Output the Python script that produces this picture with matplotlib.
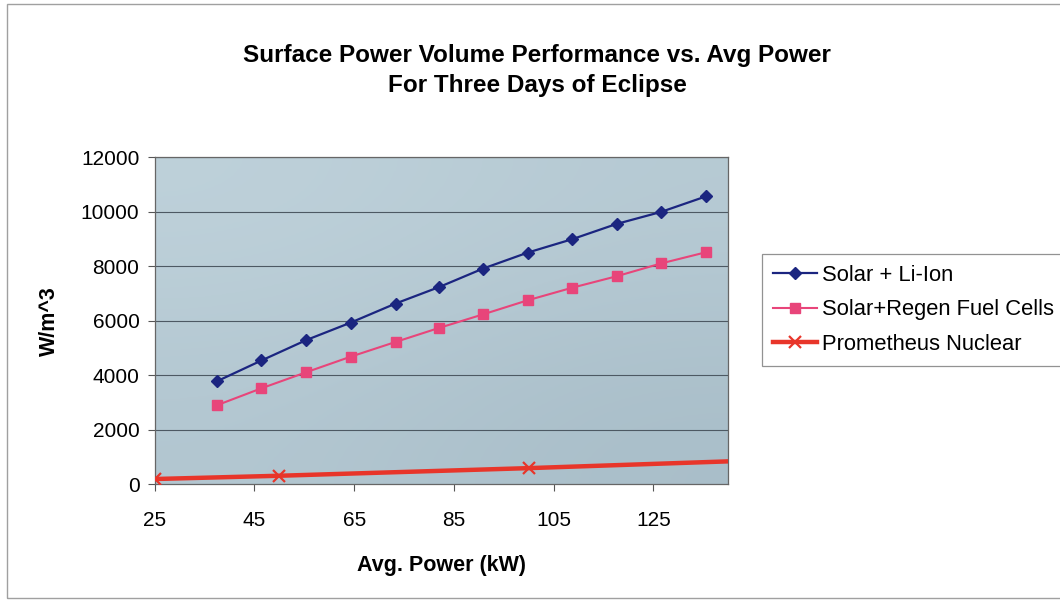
import numpy as np
import matplotlib
matplotlib.use("Agg")
import matplotlib.pyplot as plt
from matplotlib.patches import Rectangle

plt.rcParams['font.family'] = ['Liberation Sans', 'DejaVu Sans']

# Average power (kW) for the solar options
power_kw = [37.5, 46.4, 55.4, 64.3, 73.3, 82.1, 90.8, 99.8, 108.7, 117.6, 126.5, 135.5]

# Volume performance (W/m^3)
solar_li_ion = [3780, 4540, 5290, 5930, 6630, 7240, 7910, 8500, 8990, 9550, 9990, 10560]
solar_regen_fc = [2900, 3520, 4110, 4680, 5220, 5740, 6230, 6750, 7210, 7630, 8100, 8510]

# Nuclear option
nuclear_kw = [25, 50, 100, 150]
nuclear = [190, 310, 590, 900]

x_ticks = [25, 45, 65, 85, 105, 125]
y_ticks = [0, 2000, 4000, 6000, 8000, 10000, 12000]

fig = plt.figure(figsize=(10.6, 6), dpi=100)
fig.patch.set_facecolor('white')

# outer chart border
fig.patches.append(Rectangle((0.007, 0.004), 1.2, 0.99, transform=fig.transFigure,
                             fill=False, edgecolor='#a0a0a0', linewidth=1.0))

ax = fig.add_axes([0.146, 0.193, 0.541, 0.545])

# soft blue-grey plot background
grad = np.array([[0.0, 0.35], [0.55, 1.0]])
cmap = matplotlib.colors.LinearSegmentedColormap.from_list('bg', ['#bed1da', '#a9bec9'])
ax.imshow(grad, cmap=cmap, extent=[0, 1, 0, 1], transform=ax.transAxes,
          aspect='auto', interpolation='bicubic', zorder=0)

for yv in y_ticks[1:]:
    ax.axhline(yv, color='#4d5963', linewidth=0.8, zorder=1)

ax.plot(power_kw, solar_li_ion, color='#1b2580', linewidth=1.6, marker='D',
        markersize=6.5, label='Solar + Li-Ion', zorder=3)
ax.plot(power_kw, solar_regen_fc, color='#e8457a', linewidth=1.5, marker='s',
        markersize=6.5, label='Solar+Regen Fuel Cells', zorder=3)
ax.plot(nuclear_kw, nuclear, color='#e8352a', linewidth=3.2, marker='x',
        markersize=9, markeredgewidth=1.6, label='Prometheus Nuclear', zorder=3)

ax.set_xlim(25, 140)
ax.set_ylim(0, 12000)
ax.set_xticks(x_ticks)
ax.set_yticks(y_ticks)
ax.tick_params(axis='both', labelsize=15, length=5, color='#555555', direction='out')
ax.tick_params(axis='x', pad=14)
ax.tick_params(axis='y', pad=6)

for side in ['left', 'right', 'top', 'bottom']:
    ax.spines[side].set_color('#666666')
    ax.spines[side].set_linewidth(0.9)

ax.set_xlabel('Avg. Power (kW)', fontsize=15.5, fontweight='bold', labelpad=18)
ax.set_ylabel('W/m^3', fontsize=15.5, fontweight='bold')
ax.yaxis.set_label_coords(-0.165, 0.5)

fig.text(0.507, 0.908, 'Surface Power Volume Performance vs. Avg Power',
         ha='center', va='center', fontsize=17.5, fontweight='bold')
fig.text(0.507, 0.857, 'For Three Days of Eclipse',
         ha='center', va='center', fontsize=17.5, fontweight='bold')

leg = fig.legend(loc='upper left', bbox_to_anchor=(0.719, 0.577), fontsize=15.8,
                 frameon=True, fancybox=False, edgecolor='#777777',
                 handlelength=2.0, handletextpad=0.25, labelspacing=0.62,
                 borderpad=0.5, borderaxespad=0)
leg.get_frame().set_linewidth(0.9)

fig.savefig('out.png', dpi=100)
